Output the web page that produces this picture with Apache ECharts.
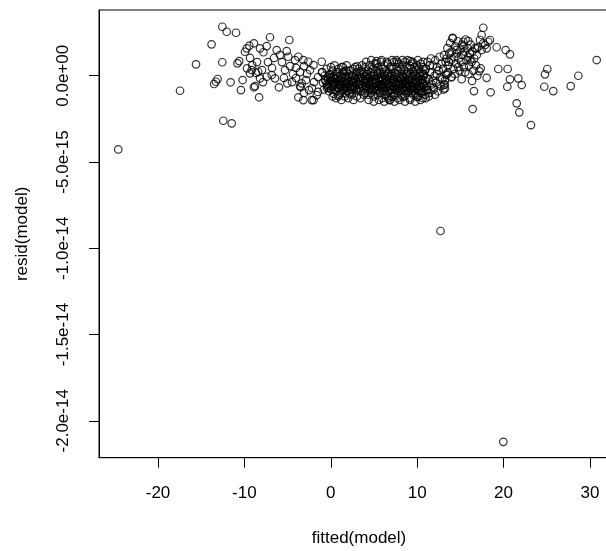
<!DOCTYPE html>
<html><head><meta charset="utf-8">
<script src="https://cdn.jsdelivr.net/npm/echarts@6/dist/echarts.min.js"></script>
<style>html,body{margin:0;padding:0;background:#fff}#c{width:606px;height:551px}</style>
</head><body><div id="c"></div>
<script>
const xTicks = [-20, -10, 0, 10, 20, 30];
const yTicks = [0, -5e-15, -1e-14, -1.5e-14, -2e-14];
const yTickLabels = ['0.0e+00', '-5.0e-15', '-1.0e-14', '-1.5e-14', '-2.0e-14'];
const xTitle = 'fitted(model)';
const yTitle = 'resid(model)';

// [fitted, resid]
const pointsLeft = [
[-24.6,-42.7e-16],[-17.45,-8.7e-16],[-15.6,6.6e-16],[-13.8,18.2e-16],[-12.56,28.4e-16],[-12.05,25.5e-16],
[-10.97,24.9e-16],[-12.56,7.8e-16],[-13.5,-4.8e-16],[-13.3,-3.5e-16],[-13.1,-1.9e-16],[-11.6,-3.8e-16],
[-10.2,-2.5e-16],[-10.4,-8.3e-16],[-12.44,-26.1e-16],[-11.47,-27.6e-16],[-10.8,7.2e-16],[-10.6,8.5e-16],
[-9.7,4.3e-16],[-8.9,-6.7e-16],[-8.77,-6.0e-16],[-8.3,-12.5e-16],[-7.04,22.3e-16],[-4.8,20.7e-16],
[-6.0,-6.7e-16],[-5.03,-4.4e-16],[-3.56,-6.0e-16],[-3.48,-6.7e-16],[-3.76,-12.5e-16],[-3.18,-14.1e-16],
[-2.2,-14.1e-16],[0.87,-11.8e-16],[-9.93,13.9e-16],[-9.73,15.9e-16],[-9.43,17.4e-16],[-8.89,18.8e-16],
[-8.19,15.9e-16],[-7.42,17.2e-16],[-7.8,13.6e-16],[-6.26,14.9e-16],[-5.88,12.0e-16],[-5.1,14.3e-16],
[-4.92,11.0e-16],[-3.76,11.0e-16],[-3.18,9.1e-16],[-2.6,8.1e-16],[-2.0,6.2e-16],[-1.05,8.1e-16],
[-8.19,-1.5e-16],[-7.42,-0.6e-16],[-6.84,0.4e-16],[-6.46,-1.5e-16],[-3.37,-4.4e-16],[-2.0,-14.1e-16],
[-1.63,-11.2e-16],[-9.35,10.3e-16],[-9.1,6.2e-16],[-8.54,7.9e-16],[-7.96,3.3e-16],[-7.27,7.9e-16],
[-6.8,4.5e-16],[-6.57,10.3e-16],[-5.65,7.9e-16],[-5.3,3.3e-16],[-4.72,5.6e-16],[-4.38,1.0e-16],
[-4.14,9.1e-16],[-4.03,4.5e-16],[-3.56,2.1e-16],[-3.1,5.6e-16],[-2.75,1.0e-16],[-2.4,3.3e-16],
[-8.66,1.6e-16],[-7.85,-3.7e-16],[-5.42,-1.3e-16],[-4.49,-3.7e-16],[-4.03,-1.3e-16],[-2.87,-2.5e-16],
[-2.52,-8.3e-16],[-3.1,-10.0e-16],[-2.18,-7.1e-16],[-1.94,-3.7e-16],[-1.48,-0.8e-16],[-1.48,-9.4e-16],
[-1.0,2.1e-16],[-0.67,-2.5e-16],[-0.44,-7.1e-16],[-0.2,0.4e-16],[-9.15,3.3e-16],[-9.35,1.4e-16],[-8.4,2.3e-16]
];

const pointsBandA = [
[-1.0,2e-16],[-0.9,-4e-16],[-0.8,-8e-16],[-0.7,0],[-0.6,-3e-16],[-0.5,4e-16],[-0.4,-6e-16],[-0.3,-1e-16],[-0.2,-9e-16],[-0.1,1e-16],
[0.0,-3e-16],[0.1,-6e-16],[0.2,3e-16],[0.3,-1e-16],[0.4,-8e-16],[0.5,-4e-16],[0.6,1e-16],[0.7,-2e-16],[0.8,-7e-16],[0.9,4e-16],
[1.0,-5e-16],[1.1,0],[1.2,-3e-16],[1.3,-9e-16],[1.4,2e-16],[1.5,-6e-16],[1.6,-1e-16],[1.7,-4e-16],[1.8,3e-16],[1.9,-7e-16],
[2.0,-2e-16],[2.1,1e-16],[2.2,-5e-16],[2.3,-8e-16],[2.4,0],[2.5,-3e-16],[2.6,4e-16],[2.7,-6e-16],[2.8,-1e-16],[2.9,-9e-16],
[3.0,2e-16],[3.1,-4e-16],[3.2,-2e-16],[3.3,-7e-16],[3.4,1e-16],[3.5,-5e-16],[3.6,3e-16],[3.7,-3e-16],[3.8,-8e-16],[3.9,0],
[0.35,-10.5e-16],[1.25,5e-16],[2.15,-10e-16],[3.05,5.5e-16],[0.55,-5.5e-16],[1.55,2.5e-16],[2.45,-6.5e-16],[3.45,-1.5e-16],
[1.76,-10.2e-16]
];

const pointsBandA2 = [
[-0.45,-5e-16],[-0.35,-2e-16],[-0.25,-7e-16],[-0.15,-4e-16],[-0.05,-1e-16],[0.05,-8e-16],[0.15,-3e-16],[0.25,-6e-16],[0.35,0],[0.45,-5e-16],
[0.55,-2e-16],[0.65,-9e-16],[0.75,-4e-16],[0.85,-1e-16],[0.95,-7e-16],[1.05,-3e-16],[1.15,-6e-16],[1.25,-1e-16],[1.35,-5e-16],[1.45,-8e-16],
[1.55,-3e-16],[1.65,-7e-16],[1.75,0],[1.85,-5e-16],[1.95,-9e-16],[2.05,-4e-16],[2.15,-1e-16],[2.25,-6e-16],[2.35,-3e-16],[2.45,-8e-16],
[2.55,0],[2.65,-4e-16],[2.75,-7e-16],[2.85,-2e-16],[2.95,-5e-16],[3.05,-8e-16],[3.15,-1e-16],[3.25,-5e-16],[3.35,-3e-16],[3.45,-9e-16],
[3.55,-1e-16],[3.65,-6e-16],[3.75,2e-16],[3.85,-4e-16],[3.95,-10e-16],
[0.02,5e-16],[0.22,-12e-16],[0.42,6e-16],[0.62,-13e-16],[0.82,2e-16],[1.02,-11e-16],[1.22,-14e-16],[1.42,5e-16],[1.62,-12e-16],[1.82,6e-16],
[2.02,-13e-16],[2.22,3e-16],[2.42,-11e-16],[2.62,-14e-16],[2.82,5e-16],[3.02,-12e-16],[3.22,4e-16],[3.42,-13e-16],[3.62,6e-16],[3.82,-11e-16]
];

const pointsBandB = [
[4.0,5e-16],[4.1,1e-16],[4.2,-2e-16],[4.3,3e-16],[4.4,-1e-16],[4.5,6e-16],[4.6,0],[4.7,2e-16],[4.8,-3e-16],[4.9,4e-16],
[5.0,1e-16],[5.1,7e-16],[5.2,-2e-16],[5.3,3e-16],[5.4,0],[5.5,5e-16],[5.6,-1e-16],[5.7,2e-16],[5.8,8e-16],[5.9,-3e-16],
[6.0,4e-16],[6.1,1e-16],[6.2,6e-16],[6.3,-2e-16],[6.4,3e-16],[6.5,0],[6.6,7e-16],[6.7,2e-16],[6.8,-1e-16],[6.9,5e-16],
[7.0,1e-16],[7.1,4e-16],[7.2,-2e-16],[7.3,8e-16],[7.4,2e-16],[7.5,-1e-16],[7.6,5e-16],[7.7,0],[7.8,3e-16],[7.9,7e-16],
[8.0,-2e-16],[8.1,4e-16],[8.2,1e-16],[8.3,6e-16],[8.4,-1e-16],[8.5,3e-16],[8.6,8e-16],[8.7,0],[8.8,5e-16],[8.9,2e-16],
[9.0,-2e-16],[9.1,6e-16],[9.2,1e-16],[9.3,4e-16],[9.4,-1e-16],[9.5,7e-16],[9.6,2e-16],[9.7,5e-16],[9.8,0],[9.9,3e-16],
[10.0,6e-16],[10.1,-1e-16],[10.2,4e-16],[10.3,1e-16],[10.4,7e-16],[10.5,2e-16],[10.6,-2e-16],[10.7,5e-16],[10.8,0],[10.9,3e-16],
[4.05,-6e-16],[4.15,-9e-16],[4.25,-4e-16],[4.35,-11e-16],[4.45,-7e-16],[4.55,-5e-16],[4.65,-10e-16],[4.75,-8e-16],[4.85,-6e-16],[4.95,-12e-16],
[5.05,-7e-16],[5.15,-4e-16],[5.25,-9e-16],[5.35,-6e-16],[5.45,-11e-16],[5.55,-8e-16],[5.65,-5e-16],[5.75,-10e-16],[5.85,-7e-16],[5.95,-13e-16],
[6.05,-6e-16],[6.15,-9e-16],[6.25,-4e-16],[6.35,-11e-16],[6.45,-7e-16],[6.55,-12e-16],[6.65,-5e-16],[6.75,-9e-16],[6.85,-6e-16],[6.95,-10e-16],
[7.05,-8e-16],[7.15,-4e-16],[7.25,-12e-16],[7.35,-7e-16],[7.45,-10e-16],[7.55,-5e-16],[7.65,-8e-16],[7.75,-13e-16],[7.85,-6e-16],[7.95,-9e-16],
[8.05,-5e-16],[8.15,-11e-16],[8.25,-7e-16],[8.35,-4e-16],[8.45,-9e-16],[8.55,-12e-16],[8.65,-6e-16],[8.75,-10e-16],[8.85,-7e-16],[8.95,-5e-16],
[9.05,-9e-16],[9.15,-13e-16],[9.25,-6e-16],[9.35,-8e-16],[9.45,-4e-16],[9.55,-11e-16],[9.65,-7e-16],[9.75,-10e-16],[9.85,-5e-16],[9.95,-8e-16],
[10.05,-12e-16],[10.15,-6e-16],[10.25,-9e-16],[10.35,-4e-16],[10.45,-10e-16],[10.55,-7e-16],[10.65,-13e-16],[10.75,-5e-16],[10.85,-8e-16],[10.95,-11e-16],
[6.66,-13.1e-16],[6.85,-14.1e-16],[8.32,-12.2e-16],[9.94,-12.2e-16],[7.05,-12.2e-16],[10.13,-12.2e-16],
[5.3,8.5e-16],[7.6,9e-16],[9.2,8.5e-16]
];

const pointsBandB2 = [
[4.03,-3e-16],[4.13,-6e-16],[4.23,1e-16],[4.33,-8e-16],[4.43,-4e-16],[4.53,-1e-16],[4.63,-7e-16],[4.73,-3e-16],[4.83,-9e-16],[4.93,0],
[5.03,-5e-16],[5.13,-2e-16],[5.23,-8e-16],[5.33,-4e-16],[5.43,2e-16],[5.53,-6e-16],[5.63,-3e-16],[5.73,-9e-16],[5.83,-1e-16],[5.93,-5e-16],
[6.03,-2e-16],[6.13,-7e-16],[6.23,0],[6.33,-5e-16],[6.43,-9e-16],[6.53,-3e-16],[6.63,1e-16],[6.73,-6e-16],[6.83,-4e-16],[6.93,-8e-16],
[7.03,-3e-16],[7.13,0],[7.23,-6e-16],[7.33,-2e-16],[7.43,-8e-16],[7.53,-4e-16],[7.63,1e-16],[7.73,-7e-16],[7.83,-3e-16],[7.93,-5e-16],
[8.03,-8e-16],[8.13,-2e-16],[8.23,-5e-16],[8.33,0],[8.43,-7e-16],[8.53,-3e-16],[8.63,-9e-16],[8.73,-4e-16],[8.83,1e-16],[8.93,-6e-16],
[9.03,-4e-16],[9.13,-1e-16],[9.23,-8e-16],[9.33,-3e-16],[9.43,-6e-16],[9.53,0],[9.63,-9e-16],[9.73,-4e-16],[9.83,-2e-16],[9.93,-7e-16],
[10.03,-3e-16],[10.13,-8e-16],[10.23,0],[10.33,-6e-16],[10.43,-2e-16],[10.53,-9e-16],[10.63,-4e-16],[10.73,1e-16],[10.83,-6e-16],[10.93,-3e-16],
[4.08,8e-16],[4.38,-14e-16],[4.68,9e-16],[4.98,-15e-16],[5.28,7e-16],[5.58,-14e-16],[5.88,9e-16],[6.18,-15e-16],[6.48,8e-16],[6.78,-14e-16],
[7.08,9e-16],[7.38,-15e-16],[7.68,8e-16],[7.98,-14e-16],[8.28,9e-16],[8.58,-15e-16],[8.88,9e-16],[9.18,-14e-16],[9.48,8e-16],[9.78,-15e-16],
[10.08,9e-16],[10.38,-14e-16],[10.68,8e-16],[10.98,-13e-16]
];

const pointsBandC = [
[11.0,4e-16],[11.1,-6e-16],[11.2,8e-16],[11.3,-2e-16],[11.4,-10e-16],[11.5,2e-16],[11.6,10e-16],[11.7,-5e-16],[11.8,6e-16],[11.9,-8e-16],
[12.0,0],[12.1,9e-16],[12.2,-4e-16],[12.3,5e-16],[12.4,-9e-16],[12.5,3e-16],[12.6,11e-16],[12.7,-6e-16],[12.8,7e-16],[12.9,-2e-16],
[13.0,4e-16],[13.1,12e-16],[13.2,-5e-16],[13.3,8e-16],[13.4,1e-16],[11.05,-1e-16],[11.45,6e-16],[11.85,-3e-16],[12.25,1e-16],[12.65,-1e-16],
[13.05,-8e-16],[12.05,-11e-16],[11.35,-12e-16],[11.2,-8.3e-16],[11.86,-6.7e-16],[11.1,-8.3e-16],[10.64,-4.4e-16],
[13.99,-0.6e-16],[13.41,0.4e-16],[13.22,-2.5e-16],[13.1,-5.4e-16],[13.22,-7.3e-16]
];

const pointsBandD = [
[13.4,10e-16],[13.5,16e-16],[13.6,6e-16],[13.7,13e-16],[13.8,19e-16],[13.9,9e-16],[14.0,14e-16],[14.1,22e-16],[14.2,4e-16],[14.3,11e-16],
[14.4,17e-16],[14.5,7e-16],[14.6,13e-16],[14.7,20e-16],[14.8,10e-16],[14.9,3e-16],[15.0,15e-16],[15.1,8e-16],[15.2,18e-16],[15.3,12e-16],
[15.4,5e-16],[15.5,14e-16],[15.6,21e-16],[15.7,9e-16],[15.8,16e-16],[15.9,11e-16],[16.0,6e-16],[16.1,13e-16],[16.2,18e-16],[16.3,8e-16],
[16.4,14e-16],[16.5,3e-16],[16.6,10e-16],[16.7,16e-16],[16.8,6e-16],[16.9,12e-16],
[13.55,2e-16],[13.95,-1e-16],[14.35,1e-16],[14.75,5e-16],[15.15,-2e-16],[15.55,2e-16],[15.95,1e-16],[16.35,-3e-16],
[13.65,8e-16],[14.55,15e-16],[15.35,17e-16],[16.15,9e-16]
];

const pointsRight = [
[17.65,27.8e-16],[17.46,23.6e-16],[17.27,20.7e-16],[17.65,18.8e-16],[18.23,19.7e-16],[18.43,20.7e-16],
[18.04,15.9e-16],[17.46,14.9e-16],[17.07,16.8e-16],[16.89,15.9e-16],[17.85,17.8e-16],[19.2,16.5e-16],
[20.24,14.9e-16],[20.74,12.4e-16],[14.11,21.7e-16],[15.34,19.7e-16],[15.91,20.1e-16],[30.78,9.1e-16],
[25.06,3.9e-16],[24.79,0.8e-16],[24.71,-6.4e-16],[25.75,-8.9e-16],[28.65,0],[27.77,-6.0e-16],
[19.39,3.9e-16],[20.47,3.9e-16],[17.35,4.3e-16],[17.19,2.7e-16],[20.74,-2.1e-16],[21.7,-1.5e-16],
[22.1,-5.4e-16],[20.43,-6.4e-16],[18.04,-1.2e-16],[16.96,0],[16.57,-8.9e-16],[18.5,-9.6e-16],
[16.42,-19.3e-16],[21.52,-16.0e-16],[21.82,-21.2e-16],[23.17,-28.6e-16]
];

const outliers = [[19.97,-212.2e-16],[12.7,-90.0e-16]];

const allPoints = [].concat(pointsLeft, pointsBandA, pointsBandA2, pointsBandB, pointsBandB2, pointsBandC, pointsBandD, pointsRight, outliers);

const FONT = '"Liberation Sans", Arial, sans-serif';
const chart = echarts.init(document.getElementById('c'), null, {renderer: 'canvas'});
chart.setOption({
  animation: false,
  backgroundColor: '#fff',
  grid: {left: 99, top: 10, width: 520, height: 447.7, outerBoundsMode: 'none', containLabel: false,
         show: true, borderColor: '#000', borderWidth: 1, backgroundColor: 'transparent'},
  xAxis: {
    type: 'value', min: -26.83, max: 33.36,
    name: xTitle, nameLocation: 'middle', nameGap: 72,
    nameTextStyle: {fontSize: 17, color: '#000', fontFamily: FONT},
    axisLine: {show: true, onZero: false, lineStyle: {color: '#000', width: 1}},
    axisTick: {show: true, length: 10, inside: false, customValues: xTicks, lineStyle: {color: '#000', width: 1}},
    axisLabel: {show: true, customValues: xTicks, margin: 27, fontSize: 17, color: '#000', fontFamily: FONT},
    splitLine: {show: false}
  },
  yAxis: {
    type: 'value', min: -2.214e-14, max: 3.81e-15,
    name: yTitle, nameLocation: 'middle', nameGap: 68,
    nameTextStyle: {fontSize: 17, color: '#000', fontFamily: FONT},
    axisLine: {show: true, onZero: false, lineStyle: {color: '#000', width: 1}},
    axisTick: {show: true, length: 10, inside: false, customValues: yTicks, lineStyle: {color: '#000', width: 1}},
    axisLabel: {
      show: true, customValues: yTicks, rotate: 90, margin: 27, fontSize: 17, color: '#000', fontFamily: FONT,
      formatter: function (v) {
        let best = 0, bd = Infinity;
        yTicks.forEach(function (t, i) { const d = Math.abs(t - v); if (d < bd) { bd = d; best = i; } });
        return yTickLabels[best];
      }
    },
    splitLine: {show: false}
  },
  series: [{
    type: 'scatter',
    data: allPoints,
    symbol: 'circle',
    symbolSize: 7.5,
    silent: true,
    itemStyle: {color: 'rgba(0,0,0,0)', borderColor: '#000', borderWidth: 1.2},
    emphasis: {disabled: true}
  }]
});
</script>
</body></html>
